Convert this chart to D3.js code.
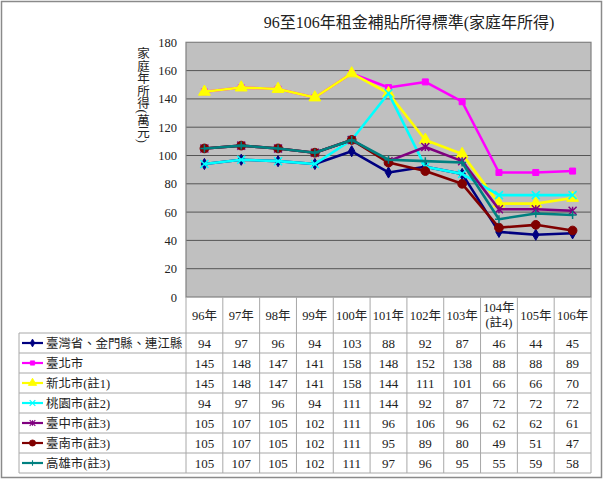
<!DOCTYPE html>
<html>
<head>
<meta charset="utf-8">
<script src="https://cdn.jsdelivr.net/npm/d3@7"></script>
<style>
  body { margin: 0; background: #fff; }
  text { font-family: 'Liberation Serif', 'Noto Sans CJK TC', serif; fill: #222; }
</style>
</head>
<body>
<svg id="chart" width="604" height="480"></svg>
<script>
let years = ['96年', '97年', '98年', '99年', '100年', '101年', '102年', '103年', '104年\n(註4)', '105年', '106年'];
let seriesNames = ['臺灣省、金門縣、連江縣', '臺北市', '新北市(註1)', '桃園市(註2)', '臺中市(註3)', '臺南市(註3)', '高雄市(註3)'];
let taiwan = [94, 97, 96, 94, 103, 88, 92, 87, 46, 44, 45];
let taipei = [145, 148, 147, 141, 158, 148, 152, 138, 88, 88, 89];
let newTaipei = [145, 148, 147, 141, 158, 144, 111, 101, 66, 66, 70];
let taoyuan = [94, 97, 96, 94, 111, 144, 92, 87, 72, 72, 72];
let taichung = [105, 107, 105, 102, 111, 96, 106, 96, 62, 62, 61];
let tainan = [105, 107, 105, 102, 111, 95, 89, 80, 49, 51, 47];
let kaohsiung = [105, 107, 105, 102, 111, 97, 96, 95, 55, 59, 58];
let yTicks = [0, 20, 40, 60, 80, 100, 120, 140, 160, 180];

let seriesValues = [taiwan, taipei, newTaipei, taoyuan, taichung, tainan, kaohsiung];
let colors = ['#000080', '#ff00ff', '#ffff00', '#00ffff', '#800080', '#800000', '#008080'];

// stroke-style markers drawn by hand so any v7 build works
const symX = { draw(ctx, size) { const r = Math.sqrt(size) / 2; ctx.moveTo(-r, -r); ctx.lineTo(r, r); ctx.moveTo(r, -r); ctx.lineTo(-r, r); } };
const symPlus = { draw(ctx, size) { const r = Math.sqrt(size) / 2; ctx.moveTo(0, -r); ctx.lineTo(0, r); ctx.moveTo(-r, 0); ctx.lineTo(r, 0); } };
const symStar = { draw(ctx, size) { const r = Math.sqrt(size) / 2; symX.draw(ctx, size); ctx.moveTo(0, -r); ctx.lineTo(0, r); } };

let markers = [
  { type: d3.symbolDiamond, size: 36, fill: true },
  { type: d3.symbolSquare, size: 36, fill: true },
  { type: d3.symbolTriangle, size: 60, fill: true },
  { type: symX, size: 64, fill: false },
  { type: symStar, size: 64, fill: false },
  { type: d3.symbolCircle, size: 60, fill: true },
  { type: symPlus, size: 64, fill: false }
];

const svg = d3.select('#chart');
const plot = { left: 186, right: 591, top: 42.3, bottom: 297 };
const table = { left: 19, top: 333, rowH: 20 };

let x = d3.scaleBand().domain(years).range([plot.left, plot.right]);
let y = d3.scaleLinear().domain([0, 180]).range([plot.bottom, plot.top]);

// outer frame
svg.append('rect')
  .attr('x', 1.5).attr('y', 1.5).attr('width', 600).attr('height', 476)
  .attr('fill', '#fff').attr('stroke', '#8a8a8a').attr('stroke-width', 1.5);

// title
svg.append('text')
  .attr('x', 409).attr('y', 28)
  .attr('text-anchor', 'middle')
  .style('font-size', '16px')
  .text('96至106年租金補貼所得標準(家庭年所得)');

// plot background
svg.append('rect')
  .attr('x', plot.left).attr('y', plot.top)
  .attr('width', plot.right - plot.left).attr('height', plot.bottom - plot.top)
  .attr('fill', '#c0c0c0');

// gridlines
svg.append('g')
  .selectAll('line')
  .data(yTicks.slice(1, -1))
  .join('line')
  .attr('x1', plot.left).attr('x2', plot.right)
  .attr('y1', d => y(d)).attr('y2', d => y(d))
  .attr('stroke', '#555').attr('stroke-width', 1);

svg.append('rect')
  .attr('x', plot.left).attr('y', plot.top)
  .attr('width', plot.right - plot.left).attr('height', plot.bottom - plot.top)
  .attr('fill', 'none').attr('stroke', '#808080').attr('stroke-width', 1.2);

// y axis labels
let yAxis = d3.axisLeft(y).tickValues(yTicks).tickSize(0).tickPadding(9);
svg.append('g')
  .attr('transform', `translate(${plot.left},0)`)
  .call(yAxis)
  .call(g => g.select('.domain').remove())
  .call(g => g.selectAll('text')
    .style('font-family', "'Liberation Serif', serif")
    .style('font-size', '12.5px')
    .attr('fill', '#222'));

// y axis title, vertical
svg.append('text')
  .attr('x', 142).attr('y', 47)
  .style('writing-mode', 'vertical-rl')
  .style('font-size', '12.5px')
  .text('家庭年所得(萬元)');

// series lines and markers
let line = d3.line()
  .x((d, i) => x(years[i]) + x.bandwidth() / 2)
  .y(d => y(d));

seriesValues.forEach((vals, s) => {
  let g = svg.append('g');
  g.append('path')
    .datum(vals)
    .attr('d', line)
    .attr('fill', 'none')
    .attr('stroke', colors[s])
    .attr('stroke-width', 2.6)
    .attr('stroke-linejoin', 'round');
  let m = markers[s];
  g.selectAll('path.mk')
    .data(vals)
    .join('path')
    .attr('class', 'mk')
    .attr('transform', (d, i) => `translate(${x(years[i]) + x.bandwidth() / 2},${y(d)})`)
    .attr('d', d3.symbol().type(m.type).size(m.size))
    .attr('fill', m.fill ? colors[s] : 'none')
    .attr('stroke', colors[s])
    .attr('stroke-width', m.fill ? 1 : 1.5);
});

// data table
const tableLine = '#a8a8a8';
const tableBottom = table.top + table.rowH * seriesNames.length;
let tg = svg.append('g');

// column lines
tg.selectAll('line.col')
  .data(years.map(d => x(d)).concat([plot.right]))
  .join('line')
  .attr('class', 'col')
  .attr('x1', d => d).attr('x2', d => d)
  .attr('y1', plot.bottom).attr('y2', tableBottom)
  .attr('stroke', tableLine);

// row lines
tg.selectAll('line.row')
  .data(d3.range(seriesNames.length + 1))
  .join('line')
  .attr('class', 'row')
  .attr('x1', table.left).attr('x2', plot.right)
  .attr('y1', d => table.top + d * table.rowH).attr('y2', d => table.top + d * table.rowH)
  .attr('stroke', tableLine);

tg.append('line')
  .attr('x1', table.left).attr('x2', table.left)
  .attr('y1', table.top).attr('y2', tableBottom)
  .attr('stroke', tableLine);

// header
let hdr = tg.selectAll('text.hdr')
  .data(years)
  .join('text')
  .attr('class', 'hdr')
  .attr('text-anchor', 'middle')
  .style('font-size', '12.5px');
hdr.each(function (d) {
  let parts = d.split('\n');
  let cx = x(d) + x.bandwidth() / 2;
  let cy = (plot.bottom + table.top) / 2;
  let t = d3.select(this);
  parts.forEach((p, k) => {
    t.append('tspan')
      .attr('x', cx)
      .attr('y', cy + 4.5 + (k - (parts.length - 1) / 2) * 15)
      .text(p);
  });
});

// rows: legend key, name, values
seriesNames.forEach((name, s) => {
  let cy = table.top + s * table.rowH + table.rowH / 2;
  let m = markers[s];
  tg.append('line')
    .attr('x1', 22).attr('x2', 43).attr('y1', cy).attr('y2', cy)
    .attr('stroke', colors[s]).attr('stroke-width', 2.2);
  tg.append('path')
    .attr('transform', `translate(32.5,${cy})`)
    .attr('d', d3.symbol().type(m.type).size(m.size * 0.5))
    .attr('fill', m.fill ? colors[s] : 'none')
    .attr('stroke', colors[s])
    .attr('stroke-width', m.fill ? 0.8 : 1.1);
  tg.append('text')
    .attr('x', 46).attr('y', cy + 4.5)
    .style('font-size', '12.4px')
    .text(name);
  tg.selectAll(null)
    .data(seriesValues[s])
    .join('text')
    .attr('x', (d, i) => x(years[i]) + x.bandwidth() / 2)
    .attr('y', cy + 4.5)
    .attr('text-anchor', 'middle')
    .style('font-size', '13px')
    .text(d => d);
});
</script>
</body>
</html>
